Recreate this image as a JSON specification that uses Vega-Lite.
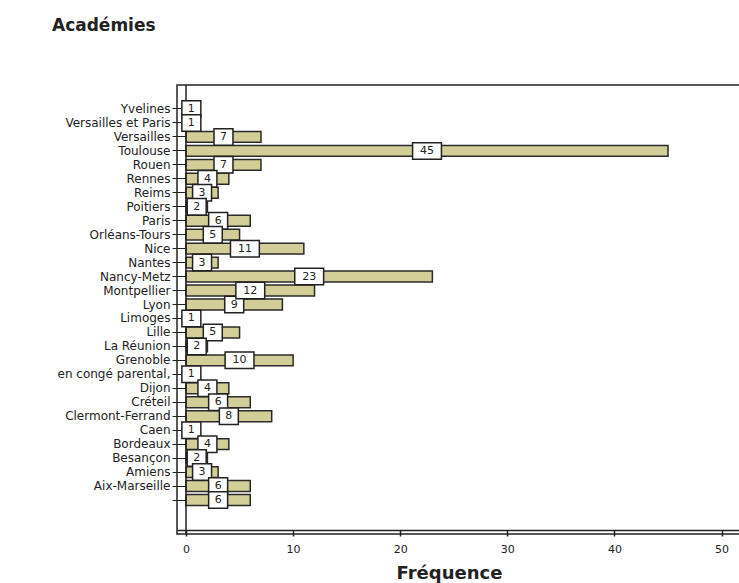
{
  "$schema": "https://vega.github.io/schema/vega-lite/v6.json",
  "autosize": {"type": "none"},
  "padding": {"left": 177, "top": 85, "right": 0, "bottom": 49},
  "width": 563,
  "height": 449,
  "background": "white",
  "title": {"text": "Académies", "anchor": "start", "frame": "group", "dx": -125, "offset": 36, "baseline": "alphabetic", "font": "DejaVu Sans", "fontSize": 17, "fontWeight": "bold", "color": "#222"},
  "config": {"view": {"stroke": "#222", "strokeWidth": 1.5}},
  "data": {"values": [
    {"academie": "Yvelines", "n": 1},
    {"academie": "Versailles et Paris", "n": 1},
    {"academie": "Versailles", "n": 7},
    {"academie": "Toulouse", "n": 45},
    {"academie": "Rouen", "n": 7},
    {"academie": "Rennes", "n": 4},
    {"academie": "Reims", "n": 3},
    {"academie": "Poitiers", "n": 2},
    {"academie": "Paris", "n": 6},
    {"academie": "Orléans-Tours", "n": 5},
    {"academie": "Nice", "n": 11},
    {"academie": "Nantes", "n": 3},
    {"academie": "Nancy-Metz", "n": 23},
    {"academie": "Montpellier", "n": 12},
    {"academie": "Lyon", "n": 9},
    {"academie": "Limoges", "n": 1},
    {"academie": "Lille", "n": 5},
    {"academie": "La Réunion", "n": 2},
    {"academie": "Grenoble", "n": 10},
    {"academie": "en congé parental,", "n": 1},
    {"academie": "Dijon", "n": 4},
    {"academie": "Créteil", "n": 6},
    {"academie": "Clermont-Ferrand", "n": 8},
    {"academie": "Caen", "n": 1},
    {"academie": "Bordeaux", "n": 4},
    {"academie": "Besançon", "n": 2},
    {"academie": "Amiens", "n": 3},
    {"academie": "Aix-Marseille", "n": 6},
    {"academie": " ", "n": 6}
  ]},
  "resolve": {"scale": {"x": "independent"}},
  "layer": [
    {
      "mark": {"type": "bar", "fill": "#d3ce98", "stroke": "#2a2a2a", "strokeWidth": 1.5},
      "encoding": {
        "y": {
          "field": "academie", "type": "nominal",
          "scale": {"type": "band", "domain": ["Yvelines", "Versailles et Paris", "Versailles", "Toulouse", "Rouen", "Rennes", "Reims", "Poitiers", "Paris", "Orléans-Tours", "Nice", "Nantes", "Nancy-Metz", "Montpellier", "Lyon", "Limoges", "Lille", "La Réunion", "Grenoble", "en congé parental,", "Dijon", "Créteil", "Clermont-Ferrand", "Caen", "Bordeaux", "Besançon", "Amiens", "Aix-Marseille", " "], "range": [17, 422], "paddingInner": 0.22, "paddingOuter": 0.11},
          "axis": {"title": null, "offset": -9, "domain": false, "tickSize": 14, "labelPadding": 2, "labelFont": "DejaVu Sans", "labelFontSize": 12, "labelColor": "#222", "tickColor": "#222", "tickWidth": 1, "grid": false}
        },
        "x": {"field": "n", "type": "quantitative",
          "scale": {"domain": [-0.84, 51.72], "nice": false, "zero": false},
          "axis": {"title": "Fréquence", "offset": -4, "values": [0, 10, 20, 30, 40, 50], "tickSize": 6, "tickColor": "#222", "tickWidth": 1.5, "domainColor": "#222", "domainWidth": 1.5, "labelFont": "DejaVu Sans", "labelFontSize": 11, "labelColor": "#222", "labelPadding": 7, "grid": false, "titleFont": "DejaVu Sans", "titleFontSize": 18, "titleFontWeight": "bold", "titleColor": "#222", "titlePadding": 10, "titleX": 272}
        }
      }
    },
    {
      "mark": {"type": "rule", "color": "#222", "strokeWidth": 1.5},
      "data": {"values": [{"pos": 0}]},
      "encoding": {
        "x": {"field": "pos", "type": "quantitative", "scale": {"domain": [-0.84, 51.72], "nice": false, "zero": false}, "axis": null}
      }
    },
    {
      "transform": [{"filter": {"field": "n", "lt": 10}}],
      "mark": {"type": "point", "shape": "M-1.15,-1H1.15V1H-1.15Z", "size": 272, "filled": true, "fill": "white", "stroke": "#222", "strokeWidth": 1.5, "opacity": 1},
      "encoding": {
        "y": {"field": "academie", "type": "nominal"},
        "x": {"field": "n", "type": "quantitative", "scale": {"domain": [-1.68, 103.44], "nice": false, "zero": false}, "axis": null}
      }
    },
    {
      "transform": [{"filter": {"field": "n", "gte": 10}}],
      "mark": {"type": "point", "shape": "M-1.75,-1H1.75V1H-1.75Z", "size": 272, "filled": true, "fill": "white", "stroke": "#222", "strokeWidth": 1.5, "opacity": 1},
      "encoding": {
        "y": {"field": "academie", "type": "nominal"},
        "x": {"field": "n", "type": "quantitative", "scale": {"domain": [-1.68, 103.44], "nice": false, "zero": false}, "axis": null}
      }
    },
    {
      "mark": {"type": "text", "font": "DejaVu Sans", "fontSize": 11, "color": "#222", "baseline": "middle", "align": "center"},
      "encoding": {
        "y": {"field": "academie", "type": "nominal"},
        "x": {"field": "n", "type": "quantitative", "scale": {"domain": [-1.68, 103.44], "nice": false, "zero": false}, "axis": null},
        "text": {"field": "n", "type": "quantitative"}
      }
    }
  ]
}
